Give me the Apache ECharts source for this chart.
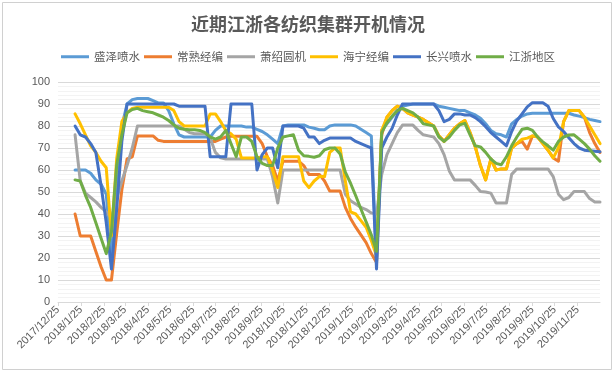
<!DOCTYPE html>
<html><head><meta charset="utf-8">
<script src="https://cdn.jsdelivr.net/npm/echarts@6/dist/echarts.min.js"></script>
<style>html,body{margin:0;padding:0;background:#fff}#c{width:616px;height:375px}</style>
</head><body><div id="c"></div>
<script>
const chartTitle = '近期江浙各纺织集群开机情况';
const seriesNames = ['盛泽喷水','常熟经编','萧绍圆机','海宁经编','长兴喷水','江浙地区'];
const seriesColors = ['#5B9BD5','#ED7D31','#A5A5A5','#FFC000','#4472C4','#70AD47'];
const yTicks = {min: 0, max: 100, interval: 10};

// weekly observation dates
const weeks = [
'2018/1/17','2018/1/24','2018/1/31','2018/2/7','2018/2/14','2018/2/21','2018/2/28','2018/3/7','2018/3/14','2018/3/21',
'2018/3/28','2018/4/4','2018/4/11','2018/4/18','2018/4/25','2018/5/2','2018/5/9','2018/5/16','2018/5/23','2018/5/30',
'2018/6/6','2018/6/13','2018/6/20','2018/6/27','2018/7/4','2018/7/11','2018/7/18','2018/7/25','2018/8/1','2018/8/8',
'2018/8/15','2018/8/22','2018/8/29','2018/9/5','2018/9/12','2018/9/19','2018/9/26','2018/10/3','2018/10/10','2018/10/17',
'2018/10/24','2018/10/31','2018/11/7','2018/11/14','2018/11/21','2018/11/28','2018/12/5','2018/12/12','2018/12/19','2018/12/26',
'2019/1/2','2019/1/9','2019/1/16','2019/1/23','2019/1/30','2019/2/6','2019/2/13','2019/2/20','2019/2/27','2019/3/6',
'2019/3/13','2019/3/20','2019/3/27','2019/4/3','2019/4/10','2019/4/17','2019/4/24','2019/5/1','2019/5/8','2019/5/15',
'2019/5/22','2019/5/29','2019/6/5','2019/6/12','2019/6/19','2019/6/26','2019/7/3','2019/7/10','2019/7/17','2019/7/24',
'2019/7/31','2019/8/7','2019/8/14','2019/8/21','2019/8/28','2019/9/4','2019/9/11','2019/9/18','2019/9/25','2019/10/2',
'2019/10/9','2019/10/16','2019/10/23','2019/10/30','2019/11/6','2019/11/13','2019/11/20','2019/11/27','2019/12/4','2019/12/11',
'2019/12/18','2019/12/25'];

const shengze = [
60,60,60,58.5,55.5,53.5,49,20,50,80,
90,92,92.5,92.5,92.5,91.5,90.5,90.5,87,81,
76,75,75,75,75,75,75,78,80,80,
80,80,80,79.5,79.5,78.5,77.5,76,74,72,
80,80.5,80.5,80.5,80.5,79.5,79,78.3,78.3,80,
80.5,80.5,80.5,80.5,80,78.5,77,75.5,18,78,
81,84,87,89,89.5,90,90,90,90,90,
89,88.5,88,87.5,87,87,86,85,83.5,81,
78,76.5,76,75,81,83,84.5,85.5,85.8,85.8,
85.8,85.8,85.8,85.8,85.8,85.8,85,84.5,83.8,83,
82.5,82];
const changshu = [
40,30,30,30,23,16,10,10,31,51,
65,66,75.5,75.5,75.5,75.5,73.5,73,73,73,
73,73,73,73,73,73,73,73,74,75,
75.3,75.3,75.3,75.3,75.3,75.3,72,66,62,55,
64,64,64,64,62,58,58,58,55,50.4,
50.4,50.4,43,38,34,30.5,27,22,18,76,
84,87,89,88,86,85,84,83,81.5,80,
75.5,73,76,79,81,82.5,77,70.5,62,55.5,
65,60,60.5,60.5,70,72,73,69.5,75.5,75,
72,69,65.5,64,82,87,87,87,84,77,
72,68];
const xiaoshao = [
76,55,49.5,47.5,45.5,43,41,38,47,55,
62,70,80,80,80,80,80,80,80,80,
80,78.5,77,76.5,76.5,76.5,74.5,68,65.5,65,
65,65,65,65,65,65,65,65,57,45,
60,60,60,60,60,60,60,60,60,60,
60,60,49,46,44.5,43,42,40.5,40,58,
67,72,77,80.4,80.4,80.4,78,76,75.5,75,
72,67,59.6,55.5,55.5,55.5,55.5,53,50.2,50,
49.5,45,45,45,58,60.5,60.5,60.5,60.5,60.5,
60.5,60.5,57,49,46.5,47.5,50.2,50.2,50.2,47,
45.5,45.5];
const haining = [
85.5,81,76,71,68,64,61,30,65,82,
86,88,88.5,88.5,88.5,88.5,88.5,88.5,88.5,87,
82,80,80,80,80,80,85.5,85.5,82,78,
76.5,74,65.5,65.5,65.5,65.5,66,66,60,52,
66,66,66,66,55,52,55,57,57,68,
70,70,55,41,40,37,34,28,21,78,
84,87,89,88,86,85,84,83,81.5,80,
75.5,73,76,79,81,82.5,77,70.5,62,55.5,
65,60,60.5,60.5,70,72,74,74.5,75.5,75,
72,69,65.5,70,82,87,87,87,84,80,
76,72];
const changxing = [
80,76,75,72,68,53,36,15,42,73,
90,90,90,90,90,90,90,90,90,90,
89,89,89,89,89,89,66,66,66,66,
90,90,90,90,90,60,67,70,70,61,
80,80,80,80,79,75,75,72,73.5,74.5,
74.5,74.5,74.5,74.5,73,72,71,70,15,70,
75,79,85,90,90,90,90,90,90,90,
87,82,83,85.5,85.5,85,85,83.8,82,79.7,
77,75,73,71,77.5,82.4,85.5,88.7,90.6,90.6,
90.6,89,83.4,79.6,77.5,74.7,72,70,69,68.7,
68.5,68.3];
const jiangzhe = [
55.5,55,48.5,43,36,29,22,32,62,76,
86,87.5,88,87,86.5,86,85,84,82.5,80.5,
79,78.5,78.3,78.3,78,77,75,74,75,78,
72,66,75,75,73,66,63,62,62,70,
75,75.5,76,69,66.5,66.2,65.8,66.5,69.2,70,
70,67.3,59,54,48.3,42.3,36.4,30.5,23,77,
81.5,84.5,87,88,87,86,84,81,80.5,80,
75,73,75,78,80.5,81.2,76,71,70.5,68,
65,63,62.4,66,71,75,78.5,79,78,75,
72.8,71,69,73,75,75.9,76,74,72,69.5,
66.5,64];

const seriesValues = [shengze, changshu, xiaoshao, haining, changxing, jiangzhe];

// daily date-axis categories from 2017/12/25 to 2019/12/25
function fmt(d){ return d.getUTCFullYear() + '/' + (d.getUTCMonth()+1) + '/' + d.getUTCDate(); }
const axisDays = [];
for (let t = Date.UTC(2017,11,25); t <= Date.UTC(2019,11,25); t += 86400000) axisDays.push(fmt(new Date(t)));
const lastIdx = axisDays.length - 1;
const monthly = (i, v) => /\/25$/.test(v) && i < lastIdx;

const chart = echarts.init(document.getElementById('c'), null, {renderer: 'canvas'});
chart.setOption({
  animation: false,
  backgroundColor: '#ffffff',
  color: seriesColors,
  title: {
    text: chartTitle, left: 'center', top: 10,
    textStyle: {fontFamily: 'Noto Sans CJK SC', fontWeight: 'bold', fontSize: 18, color: '#595959'}
  },
  legend: {
    top: 46, left: 'center', icon: 'rect', itemWidth: 28, itemHeight: 3, itemGap: 4,
    textStyle: {fontFamily: 'Noto Sans CJK SC', fontSize: 11.5, color: '#595959'},
    data: seriesNames
  },
  graphic: [{
    type: 'rect', silent: true, z: -1,
    shape: {x: 2.5, y: 2.5, width: 609, height: 367},
    style: {fill: 'none', stroke: '#D0D0D0', lineWidth: 1}
  }],
  grid: {left: 58, right: 16, top: 82, bottom: 73, containLabel: false, outerBoundsMode: 'none'},
  xAxis: {
    type: 'category', data: axisDays, boundaryGap: false,
    axisLine: {lineStyle: {color: '#D9D9D9'}},
    axisTick: {show: true, interval: monthly, length: 4, lineStyle: {color: '#D9D9D9'}},
    axisLabel: {interval: monthly, rotate: 45, fontSize: 11, color: '#595959',
      fontFamily: 'Liberation Sans', margin: 6},
    splitLine: {show: false}
  },
  yAxis: {
    type: 'value', min: yTicks.min, max: yTicks.max, interval: yTicks.interval,
    axisLine: {show: false}, axisTick: {show: false},
    axisLabel: {fontSize: 11, color: '#595959', fontFamily: 'Liberation Sans', margin: 8},
    splitLine: {lineStyle: {color: '#D9D9D9'}},
    minorSplitLine: {show: true, lineStyle: {color: '#F3F3F3'}},
    minorTick: {show: false, splitNumber: 5}
  },
  series: seriesNames.map((name, k) => ({
    name, type: 'line', symbol: 'none', smooth: false,
    lineStyle: {width: 3, join: 'round', cap: 'round'},
    data: weeks.map((d, i) => [d, seriesValues[k][i]])
  }))
});
</script>
</body></html>
